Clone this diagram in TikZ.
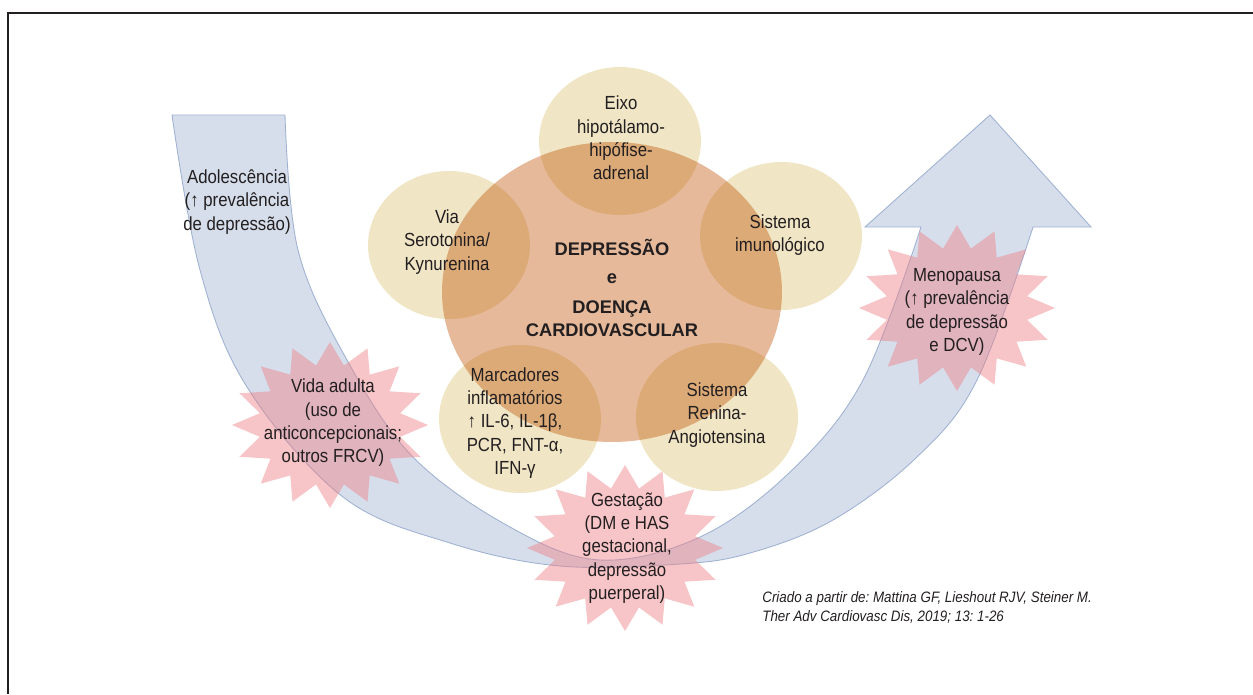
\documentclass[tikz,border=0pt]{standalone}
\usepackage{fontspec}
\setmainfont{Liberation Sans}[FakeStretch=0.885]
\newfontfamily\titlefont{Liberation Sans}
\usetikzlibrary{shapes.geometric}
\frenchspacing

\definecolor{arrowblue}{RGB}{214,222,235}
\definecolor{arrowline}{RGB}{160,178,210}
\definecolor{burstpink}{RGB}{238,127,133}
\definecolor{pathwayfill}{RGB}{240,230,197}
\definecolor{coreorange}{RGB}{192,80,2}
\definecolor{inkgray}{RGB}{35,31,32}

\begin{document}
\begin{tikzpicture}[
    x=0.02cm, y=-0.02cm,
    pathway/.style={ellipse, fill=pathwayfill, minimum width=3.24cm, minimum height=2.96cm, inner sep=0pt},
    core/.style={ellipse, fill=coreorange, fill opacity=0.4, minimum width=6.8cm, minimum height=6cm, inner sep=0pt},
    burst/.style={fill=burstpink, fill opacity=0.45},
    bluearrow/.style={fill=arrowblue, draw=arrowline, line width=0.5pt},
    txt/.style={align=center, text=inkgray, inner sep=0pt, font=\fontsize{10.8}{13.3}\selectfont},
    title/.style={align=center, text=inkgray, inner sep=0pt, font=\titlefont\bfseries\fontsize{10.4}{13}\selectfont},
    source/.style={align=left, text=inkgray, inner sep=0pt, font=\itshape\fontsize{8.6}{10.8}\selectfont},
    frame/.style={draw=inkgray, line width=1pt}
]
\useasboundingbox (0,0) rectangle (1253,694);

% Frame
\draw[frame] (8,694) -- (8,13) -- (1253,13);

% Life-course arrow
\filldraw[bluearrow] (172,115) -- (285,115)
  -- plot[smooth, tension=0.6] coordinates {(285,115) (298,250) (347,360) (413,457) (510,527) (600,560) (700,537) (790,472) (863,380) (921,227)}
  -- (865,227) -- (990,115) -- (1091,227) -- (1033,227)
  -- plot[smooth, tension=0.6] coordinates {(1033,227) (977,380) (917,457) (833,520) (750,553) (680,564) (560,566) (450,543) (343,497) (247,387) (200,270) (172,115)}
  -- cycle;

% Pathways
\node[pathway] (eixo) at (620,141) {};
\node[pathway] (via) at (449,245) {};
\node[pathway] (imune) at (781,236) {};
\node[pathway] (marcadores) at (520,419) {};
\node[pathway] (renina) at (717,417) {};

% Core
\node[core] (core) at (612,292) {};

% Bursts
\foreach \c in {(330,425),(625,548),(957,308)}
  \fill[burst, shift={\c}] plot[domain=0:31, samples=32]
    ({98*(1-0.27*mod(\x,2))*cos(90+11.25*\x)}, {83*(1-0.27*mod(\x,2))*sin(90+11.25*\x)}) -- cycle;

% Texts
\node[title] (tema) at (612,288) {DEPRESSÃO\\[3pt]e\\[4pt]DOENÇA\\CARDIOVASCULAR};
\node[txt] (eixotxt) at (621,138) {Eixo\\hipotálamo-\\hipófise-\\adrenal};
\node[txt] (viatxt) at (447,242) {Via\\Serotonina/\\Kynurenina};
\node[txt] (imunetxt) at (780,235) {Sistema\\imunológico};
\node[txt] (marcadorestxt) at (515,423) {Marcadores\\inflamatórios\\↑ IL-6, IL-1β,\\PCR, FNT-α,\\IFN-γ};
\node[txt] (reninatxt) at (717,415) {Sistema\\Renina-\\Angiotensina};
\node[txt] (adolescencia) at (237,202) {Adolescência\\(↑ prevalência\\de depressão)};
\node[txt] (adulta) at (333,423) {Vida adulta\\(uso de\\anticoncepcionais;\\outros FRCV)};
\node[txt] (gestacao) at (627,548) {Gestação\\(DM e HAS\\gestacional,\\depressão\\puerperal)};
\node[txt] (menopausa) at (957,312) {Menopausa\\(↑ prevalência\\de depressão\\e DCV)};
\node[source, anchor=west] (fonte) at (762,607) {Criado a partir de: Mattina GF, Lieshout RJV, Steiner M.\\Ther Adv Cardiovasc Dis, 2019; 13: 1-26};

\end{tikzpicture}
\end{document}
